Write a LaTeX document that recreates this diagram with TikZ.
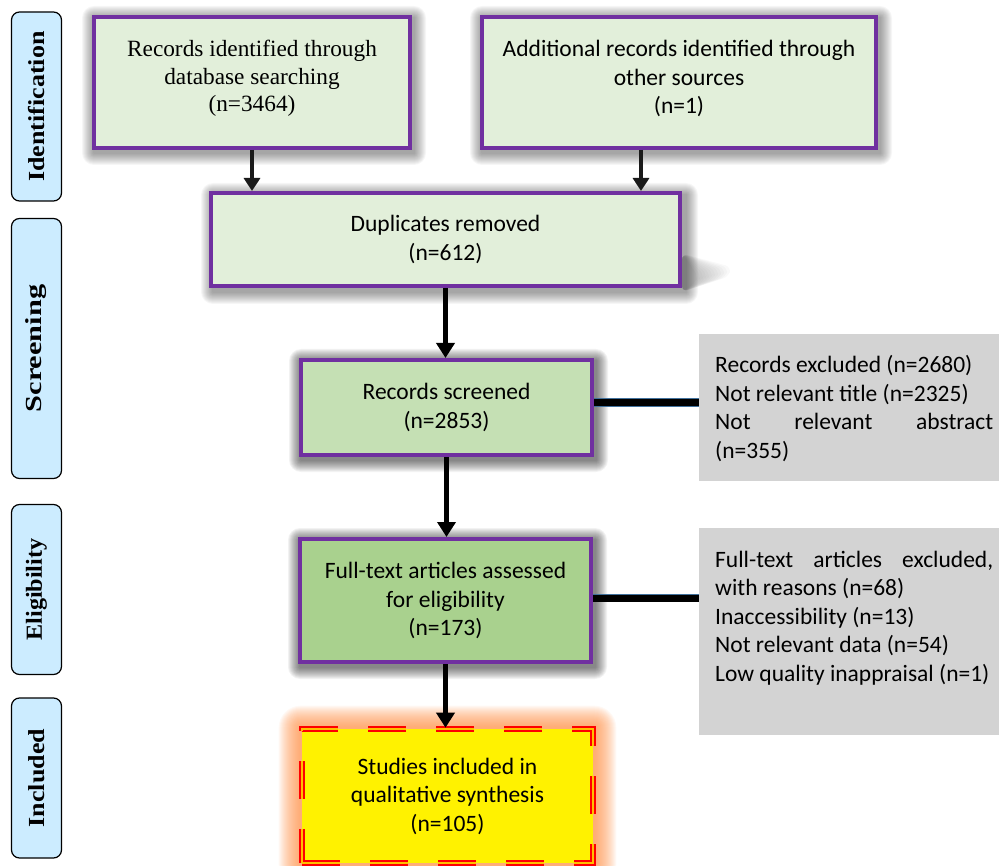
\documentclass[tikz,border=0pt]{standalone}
\usepackage{fontspec}
\setmainfont{Carlito}
\newfontfamily\serifface{Liberation Serif}
\usetikzlibrary{arrows.meta,backgrounds,calc}
\definecolor{purp}{HTML}{7030A0}
\definecolor{lgreen}{HTML}{E2EFDA}
\definecolor{mgreen}{HTML}{C5E0B4}
\definecolor{dgreen}{HTML}{A9D18E}
\definecolor{sideblue}{HTML}{CCECFF}
\definecolor{exgrey}{HTML}{D3D3D3}
\definecolor{conblue}{HTML}{41719C}
\definecolor{glowcol}{HTML}{FF8C40}
\definecolor{arrgrey}{HTML}{1A1A1A}
\newcommand\softshadow[6]{% name, color, dx, dy, steps, opacity
  \begin{pgfonlayer}{background}
    \foreach \r in {1,...,#5}{
      \fill[#2, fill opacity=#6, rounded corners=\r pt]
        ($(#1.south west)+(#3-\r,#4+\r)$) rectangle ($(#1.north east)+(#3+\r,#4-\r)$);
    }
  \end{pgfonlayer}}
\newcommand\raisedtext[2]{\parbox{#1}{\centering #2\par\vspace{8pt}}}
\tikzset{
  sidebox/.style={draw=black, line width=1.2pt, fill=sideblue, rounded corners=8pt,
    minimum height=50pt, rotate=90, inner sep=0pt,
    font=\serifface\bfseries\fontsize{23}{27}\selectfont},
  mainbox/.style={draw=purp, line width=4pt, align=center, inner sep=2pt,
    font=\fontsize{23.5}{28.5}\selectfont},
  greybox/.style={fill=exgrey, inner sep=0pt, anchor=north west},
  greytext/.style={anchor=base west, inner sep=0pt, font=\fontsize{23.5}{28.5}\selectfont},
  arr/.style={line width=4pt, draw=arrgrey, -{Triangle[width=16pt,length=13pt]}},
  arrb/.style={line width=5pt, draw=black, -{Triangle[width=18pt,length=15pt]}},
  conn/.style={draw=conblue, line width=0.9pt, double=black, double distance=7pt},
  incbox/.style={draw=red, line width=2.6pt, double=orange!50!yellow, double distance=1.6pt,
    dash pattern=on 38pt off 30pt, fill=yellow, align=center, inner sep=2pt,
    font=\fontsize{23.5}{28.5}\selectfont}
}
\begin{document}
\begin{tikzpicture}[x=1pt,y=-1pt]
\useasboundingbox (0,0) rectangle (999,866);
% side labels
\node[sidebox, minimum width=189pt] (sid) at (36.5,106.5) {\scalebox{1.13}[1]{Identification}};
\node[sidebox, minimum width=260pt] (ssc) at (36.5,348.5) {\scalebox{1.32}[1]{Screening}};
\node[sidebox, minimum width=170pt] (sel) at (36.5,589.5) {\scalebox{1.05}[1]{Eligibility}};
\node[sidebox, minimum width=160pt] (sin) at (36.5,778) {\scalebox{1.13}[1]{Included}};
% main boxes
\node[mainbox, fill=lgreen, minimum width=316pt, minimum height=131pt,
  font=\serifface\fontsize{23.3}{27.5}\selectfont] (b1) at (252,82.5)
  {\raisedtext{300pt}{Records identified through\\database searching\\(n=3464)}};
\node[mainbox, fill=lgreen, minimum width=394pt, minimum height=131pt] (b2) at (679,82.5)
  {\raisedtext{380pt}{Additional records identified through\\other sources\\(n=1)}};
\node[mainbox, fill=lgreen, minimum width=469pt, minimum height=93pt] (dup) at (445.5,239.5)
  {Duplicates removed\\(n=612)};
\node[mainbox, fill=mgreen, minimum width=291pt, minimum height=95pt] (scr) at (446.5,407.5)
  {Records screened\\(n=2853)};
\node[mainbox, fill=dgreen, minimum width=291pt, minimum height=123pt] (ft) at (445.5,600.5)
  {Full-text articles assessed\\for eligibility\\(n=173)};
\node[incbox, minimum width=291pt, minimum height=134pt] (inc) at (447.5,796)
  {Studies included in\\qualitative synthesis\\(n=105)};
% grey exclusion boxes
\node[greybox, minimum width=300pt, minimum height=147pt] (ex1) at (699,334) {};
\node[greytext] (ex1t) at (715,373) {\parbox[t]{278pt}{\raggedright
  Records excluded (n=2680)\\
  Not relevant title (n=2325)\\
  Not\hfill relevant\hfill abstract\\
  (n=355)}};
\node[greybox, minimum width=300pt, minimum height=207pt] (ex2) at (699,528) {};
\node[greytext] (ex2t) at (715,567) {\parbox[t]{278pt}{\raggedright
  Full-text\hfill articles\hfill excluded,\\
  with reasons (n=68)\\
  Inaccessibility (n=13)\\
  Not relevant data (n=54)\\
  Low quality inappraisal (n=1)}};
% shadows and glow
\softshadow{b1}{black}{2}{3}{12}{0.035}
\softshadow{b2}{black}{2}{3}{12}{0.035}
\softshadow{dup}{black}{4}{4}{12}{0.035}
\softshadow{scr}{black}{2}{3}{12}{0.05}
\softshadow{ft}{black}{2}{3}{12}{0.05}
\softshadow{inc}{glowcol}{0}{0}{22}{0.055}
\begin{pgfonlayer}{background}
  \foreach \r in {1,...,12}{
    \fill[black, fill opacity=0.025, rounded corners=6pt]
      ($(dup.east)+(0,14)$) -- ($(dup.south east)+(52-3*\r,-22+0.8*\r)$)
      -- ($(dup.south east)+(50-3*\r,-12+0.5*\r)$) -- ($(dup.south east)+(0,4)$) -- cycle;
  }
\end{pgfonlayer}
% arrows
\draw[arr] (b1.south) -- (b1.south |- dup.north);
\draw[arr] ([xshift=-38pt]b2.south) -- ([xshift=-38pt]b2.south |- dup.north);
\draw[arrb] (dup.south) -- (dup.south |- scr.north);
\draw[arrb] (scr.south) -- (scr.south |- ft.north);
\draw[arrb] (ft.south) -- (ft.south |- inc.north);
% connectors to exclusion boxes
\draw[conn] ([yshift=5pt]scr.east) -- ([yshift=5pt]scr.east -| ex1.west);
\draw[conn] ([yshift=2.5pt]ft.east) -- ([yshift=2.5pt]ft.east -| ex2.west);
\end{tikzpicture}
\end{document}
